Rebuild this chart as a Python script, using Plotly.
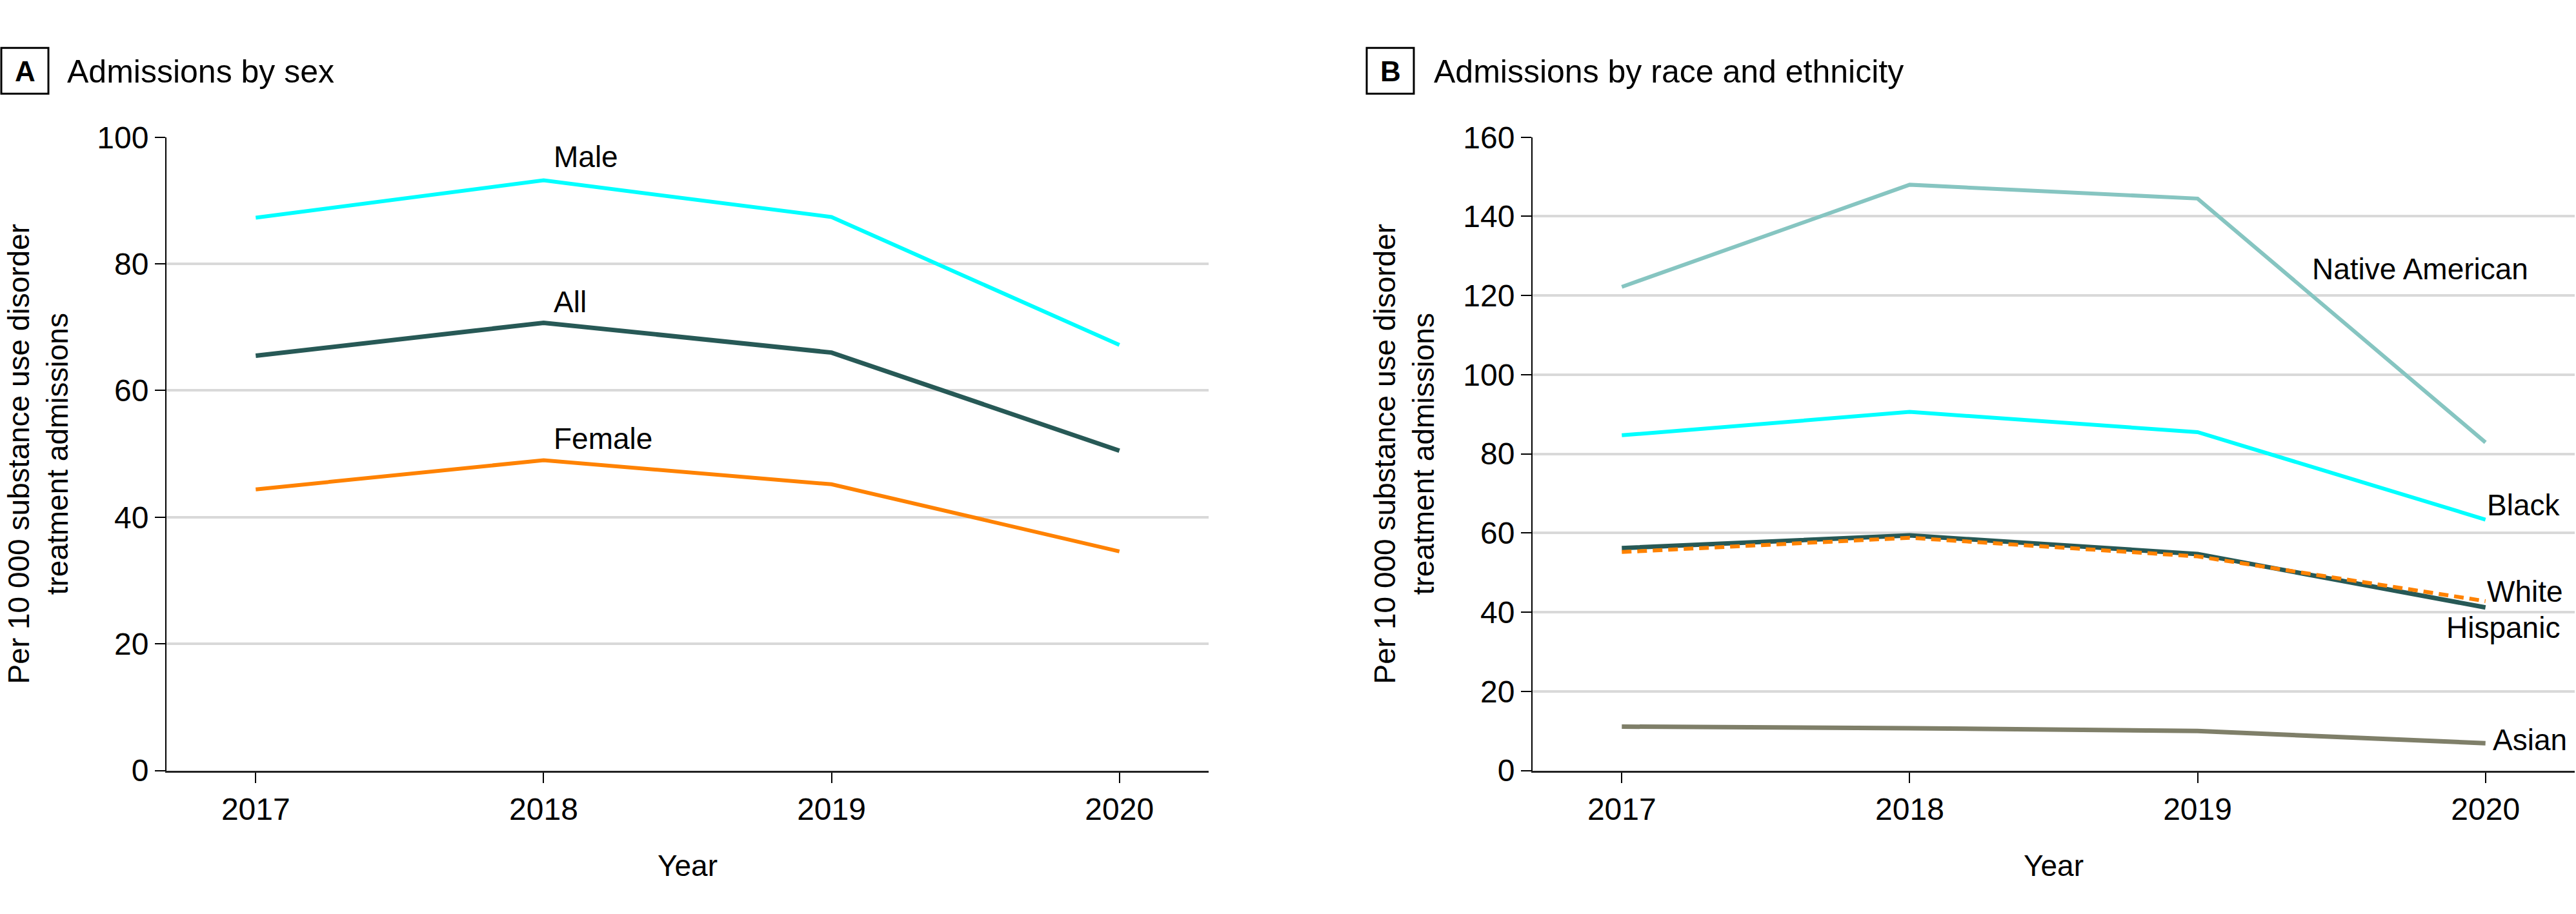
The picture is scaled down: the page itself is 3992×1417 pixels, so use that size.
import plotly.graph_objects as go

# ---------------- data ----------------
years = [2017, 2018, 2019, 2020]

# Panel A: admissions by sex (per 10 000)
male = [87.3, 93.2, 87.4, 67.2]
all_adm = [65.5, 70.7, 66.0, 50.5]
female = [44.4, 49.0, 45.2, 34.6]

# Panel B: admissions by race and ethnicity (per 10 000)
native_american = [122.2, 148.0, 144.5, 82.9]
black = [84.7, 90.6, 85.5, 63.4]
hispanic = [56.2, 59.4, 54.7, 41.2]
white = [55.2, 58.8, 54.1, 42.8]
asian = [11.1, 10.7, 10.0, 6.9]

ticks_a = [0, 20, 40, 60, 80, 100]
ticks_b = [0, 20, 40, 60, 80, 100, 120, 140, 160]

# ---------------- styling ----------------
W, H = 3992, 1417
FONT = "Liberation Sans, Arial, Helvetica, sans-serif"
CYAN = "#00FFFF"
DARK = "#275956"
ORANGE = "#FF8200"
TEAL = "#86C5C1"
OLIVE = "#7F7F69"
GRID = "#D9D9D9"


def px_x(p):
    return p / W


def px_y(p):
    return 1 - p / H


fig = go.Figure()

# Panel A traces
fig.add_trace(go.Scatter(x=years, y=male, mode="lines", name="Male",
                         line=dict(color=CYAN, width=6), xaxis="x", yaxis="y"))
fig.add_trace(go.Scatter(x=years, y=all_adm, mode="lines", name="All",
                         line=dict(color=DARK, width=7), xaxis="x", yaxis="y"))
fig.add_trace(go.Scatter(x=years, y=female, mode="lines", name="Female",
                         line=dict(color=ORANGE, width=6), xaxis="x", yaxis="y"))

# Panel B traces
fig.add_trace(go.Scatter(x=years, y=native_american, mode="lines", name="Native American",
                         line=dict(color=TEAL, width=6), xaxis="x2", yaxis="y2"))
fig.add_trace(go.Scatter(x=years, y=black, mode="lines", name="Black",
                         line=dict(color=CYAN, width=6), xaxis="x2", yaxis="y2"))
fig.add_trace(go.Scatter(x=years, y=hispanic, mode="lines", name="Hispanic",
                         line=dict(color=DARK, width=7), xaxis="x2", yaxis="y2"))
fig.add_trace(go.Scatter(x=years, y=white, mode="lines", name="White",
                         line=dict(color=ORANGE, width=6, dash="15px,9px"), xaxis="x2", yaxis="y2"))
fig.add_trace(go.Scatter(x=years, y=asian, mode="lines", name="Asian",
                         line=dict(color=OLIVE, width=7), xaxis="x2", yaxis="y2"))

tickfont = dict(family=FONT, size=48, color="black")
ytitle = "Per 10 000 substance use disorder<br>treatment admissions"

xcommon = dict(range=[2016.69, 2020.31], tickvals=years, ticktext=[str(y) for y in years],
               ticks="outside", ticklen=16, tickwidth=2, tickcolor="black",
               showline=True, linecolor="#222222", linewidth=3,
               showgrid=False, zeroline=False, tickfont=tickfont,
               title=dict(text="Year", font=dict(family=FONT, size=46, color="black"), standoff=46),
               fixedrange=True)
ycommon = dict(ticks="outside", ticklen=16, tickwidth=2, tickcolor="black",
               showline=True, linecolor="black", linewidth=2,
               showgrid=True, gridcolor=GRID, gridwidth=4, zeroline=False,
               tickfont=tickfont,
               title=dict(text=ytitle, font=dict(family=FONT, size=46, color="black"), standoff=30),
               fixedrange=True)

ydom = [px_y(1214), px_y(194)]

fig.update_layout(
    width=W, height=H,
    margin=dict(l=0, r=0, t=0, b=0),
    paper_bgcolor="white", plot_bgcolor="white",
    showlegend=False,
    font=dict(family=FONT, size=46, color="black"),
    xaxis=dict(domain=[px_x(258), px_x(1873)], anchor="y", **xcommon),
    yaxis=dict(domain=ydom, anchor="x", range=[0, 100], tickvals=ticks_a, **ycommon),
    xaxis2=dict(domain=[px_x(2375), px_x(3990)], anchor="y2", **xcommon),
    yaxis2=dict(domain=ydom, anchor="x2", range=[0, 160], tickvals=ticks_b, **ycommon),
)

# Panel letter boxes and titles
shapes = []
annotations = []
for letter, bx0, bx1, tx, title in [("A", 2, 75, 102, "Admissions by sex"),
                                     ("B", 2118, 2191, 2220, "Admissions by race and ethnicity")]:
    shapes.append(dict(type="rect", xref="paper", yref="paper",
                       x0=px_x(bx0), x1=px_x(bx1), y0=px_y(124), y1=px_y(50),
                       line=dict(color="black", width=3), fillcolor="rgba(0,0,0,0)"))
    annotations.append(dict(xref="paper", yref="paper", x=px_x((bx0 + bx1) / 2), y=px_y(88),
                            text="<b>%s</b>" % letter, showarrow=False, xanchor="center", yanchor="middle",
                            font=dict(family=FONT, size=44, color="black")))
    annotations.append(dict(xref="paper", yref="paper", x=px_x(tx), y=px_y(88),
                            text=title, showarrow=False, xanchor="left", yanchor="middle",
                            font=dict(family=FONT, size=50, color="black")))

# Series labels (placed next to lines)
lab_font = dict(family=FONT, size=46, color="black")
for txt, x, y, xr, yr in [("Male", 2018.03, 96.9, "x", "y"),
                          ("All", 2018.03, 74.0, "x", "y"),
                          ("Female", 2018.03, 52.4, "x", "y"),
                          ("Native American", 2019.393, 126.7, "x2", "y2"),
                          ("Black", 2020.0, 67.1, "x2", "y2"),
                          ("White", 2020.0, 45.2, "x2", "y2"),
                          ("Hispanic", 2019.86, 36.1, "x2", "y2"),
                          ("Asian", 2020.02, 7.7, "x2", "y2")]:
    annotations.append(dict(xref=xr, yref=yr, x=x, y=y, text=txt, showarrow=False,
                            xanchor="left", yanchor="middle", font=lab_font))

fig.update_layout(shapes=shapes, annotations=annotations)

fig.write_html("out.html", config={"displayModeBar": False},
               post_script="document.body.style.margin='0';")
